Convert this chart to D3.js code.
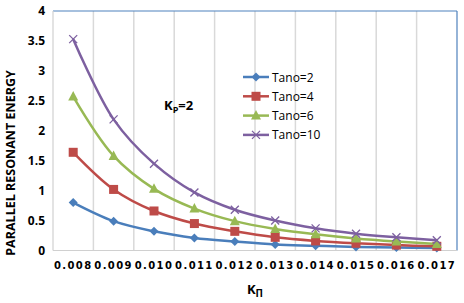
<!DOCTYPE html>
<html>
<head>
<meta charset="utf-8">
<script src="https://cdn.jsdelivr.net/npm/d3@7"></script>
<style>
  body { margin: 0; background: #fff; }
  svg { display: block; }
</style>
</head>
<body>
<svg width="464" height="303"></svg>
<script>
const categories = ["0.008", "0.009", "0.010", "0.011", "0.012", "0.013", "0.014", "0.015", "0.016", "0.017"];
const tano2  = [0.80, 0.49, 0.32, 0.21, 0.15, 0.10, 0.08, 0.06, 0.05, 0.04];
const tano4  = [1.64, 1.02, 0.66, 0.45, 0.32, 0.22, 0.16, 0.12, 0.09, 0.07];
const tano6  = [2.57, 1.58, 1.03, 0.70, 0.49, 0.36, 0.27, 0.20, 0.15, 0.11];
const tano10 = [3.53, 2.19, 1.45, 0.97, 0.68, 0.50, 0.37, 0.28, 0.22, 0.17];
const yTicks = [0, 0.5, 1, 1.5, 2, 2.5, 3, 3.5, 4];

const series = [
  {name: "Tano=2",  values: tano2,  color: "#4a7ebb", marker: "diamond"},
  {name: "Tano=4",  values: tano4,  color: "#be4b48", marker: "square"},
  {name: "Tano=6",  values: tano6,  color: "#98b954", marker: "triangle"},
  {name: "Tano=10", values: tano10, color: "#7d60a0", marker: "x"}
];

const svg = d3.select("svg");
const plotL = 53, plotR = 457, plotT = 11, plotB = 250.5;

const x = d3.scaleBand().domain(categories).range([plotL, plotR]);
const y = d3.scaleLinear().domain([0, 4]).range([plotB, plotT]);

// vertical gridlines at category boundaries
svg.append("g")
  .selectAll("line")
  .data(categories.slice(1))
  .join("line")
  .attr("x1", d => x(d)).attr("x2", d => x(d))
  .attr("y1", plotT).attr("y2", plotB)
  .attr("stroke", "#d9d9d9").attr("stroke-width", 1.5);

// plot frame
svg.append("line").attr("x1", plotL).attr("x2", plotR).attr("y1", plotT).attr("y2", plotT)
  .attr("stroke", "#4f81bd").attr("stroke-width", 1.2);
svg.append("line").attr("x1", plotR).attr("x2", plotR).attr("y1", plotT).attr("y2", plotB)
  .attr("stroke", "#4f81bd").attr("stroke-width", 1.2);
svg.append("line").attr("x1", plotL).attr("x2", plotL).attr("y1", plotT).attr("y2", plotB)
  .attr("stroke", "#d0d0d0").attr("stroke-width", 1.2);
svg.append("line").attr("x1", plotL).attr("x2", plotR).attr("y1", plotB).attr("y2", plotB)
  .attr("stroke", "#d0d0d0").attr("stroke-width", 1.2);

// y axis labels
const yAxis = svg.append("g")
  .attr("transform", `translate(${plotL},0)`)
  .call(d3.axisLeft(y).tickValues(yTicks).tickSize(0).tickPadding(8).tickFormat(d3.format("")));
yAxis.select(".domain").remove();
yAxis.selectAll("text")
  .attr("font-family", "Open Sans, sans-serif")
  .attr("font-size", 12).attr("font-weight", "bold").attr("fill", "#000");

// x axis labels
const xAxis = svg.append("g")
  .attr("transform", `translate(0,${plotB})`)
  .call(d3.axisBottom(x).tickSize(0).tickPadding(11));
xAxis.select(".domain").remove();
xAxis.selectAll("text")
  .attr("font-family", "DejaVu Sans, sans-serif")
  .attr("font-size", 10).attr("font-weight", "bold").attr("fill", "#000")
  .attr("letter-spacing", 1.4);

// axis titles
svg.append("text")
  .attr("transform", "translate(15,163) rotate(-90)")
  .attr("text-anchor", "middle")
  .attr("font-family", "Open Sans, sans-serif")
  .attr("font-size", 12.5).attr("font-weight", "bold")
  .text("PARALLEL RESONANT ENERGY");

const xt = svg.append("text")
  .attr("x", 255).attr("y", 294)
  .attr("text-anchor", "middle")
  .attr("font-family", "Open Sans, sans-serif")
  .attr("font-size", 13).attr("font-weight", "bold");
xt.append("tspan").text("K");
xt.append("tspan").attr("font-size", 10).attr("dy", 3).text("П");

// Kp=2 label
const kp = svg.append("text")
  .attr("x", 164).attr("y", 110)
  .attr("font-family", "Open Sans, sans-serif")
  .attr("font-size", 13).attr("font-weight", "bold");
kp.append("tspan").text("K");
kp.append("tspan").attr("font-size", 9).attr("dy", 3).text("P");
kp.append("tspan").attr("dy", -3).text("=2");

const line = d3.line()
  .x((d, i) => x(categories[i]) + x.bandwidth() / 2)
  .y(d => y(d))
  .curve(d3.curveCatmullRom.alpha(0.5));

function drawMarker(g, type, color) {
  if (type === "diamond") {
    g.append("path").attr("d", "M0,-4.5L4.5,0L0,4.5L-4.5,0Z").attr("fill", color);
  } else if (type === "square") {
    g.append("rect").attr("x", -4.5).attr("y", -4.5).attr("width", 9).attr("height", 9)
      .attr("fill", color);
  } else if (type === "triangle") {
    g.append("path").attr("d", "M0,-5.5L5,4L-5,4Z").attr("fill", color);
  } else {
    g.append("path").attr("d", "M-4,-4L4,4M-4,4L4,-4")
      .attr("stroke", color).attr("stroke-width", 1.3).attr("fill", "none");
  }
}

series.forEach(s => {
  svg.append("path")
    .datum(s.values)
    .attr("d", line)
    .attr("fill", "none")
    .attr("stroke", s.color)
    .attr("stroke-width", 2.5);
  s.values.forEach((v, i) => {
    const g = svg.append("g")
      .attr("transform", `translate(${x(categories[i]) + x.bandwidth() / 2},${y(v)})`);
    drawMarker(g, s.marker, s.color);
  });
});

// legend
const legend = svg.append("g");
series.forEach((s, i) => {
  const ly = 77 + i * 19.3;
  legend.append("line")
    .attr("x1", 243).attr("x2", 269).attr("y1", ly).attr("y2", ly)
    .attr("stroke", s.color).attr("stroke-width", 2.5);
  const g = legend.append("g").attr("transform", `translate(256,${ly})`);
  drawMarker(g, s.marker, s.color);
  legend.append("text")
    .attr("x", 272).attr("y", ly + 4.5)
    .attr("font-family", "Open Sans, sans-serif")
    .attr("font-size", 12).attr("fill", "#000")
    .text(s.name);
});
</script>
</body>
</html>
